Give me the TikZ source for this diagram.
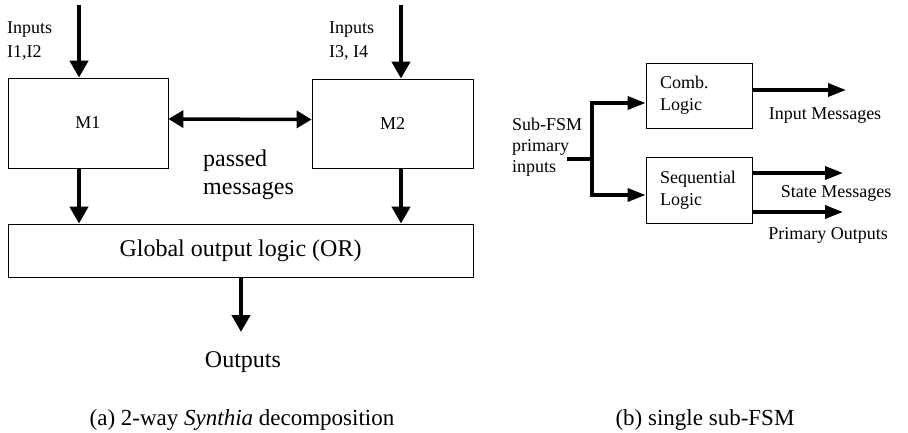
\documentclass[tikz,border=0pt]{standalone}
\usepackage{fontspec}
\setmainfont{Liberation Serif}
\usepackage{tikz}
\usetikzlibrary{arrows.meta,positioning}

\tikzset{
  box/.style={draw, line width=0.8pt, inner sep=0pt},
  flow/.style={line width=4.5pt, -{Triangle[length=17pt,width=18pt]}},
  dflow/.style={line width=3.5pt, {Triangle[length=15pt,width=17pt]}-{Triangle[length=15pt,width=17pt]}},
  rflow/.style={line width=3.5pt, line join=miter, -{Triangle[length=18pt,width=13pt]}},
  rline/.style={line width=3.5pt},
  lbl/.style={inner sep=0pt, align=left, font=\fontsize{18}{24}\selectfont},
}

\begin{document}
\begin{tikzpicture}[x=1pt, y=-1pt]
\useasboundingbox (0,0) rectangle (908,433);

% === (a) 2-way decomposition ===
\node[box, minimum width=160pt, minimum height=90pt, font=\fontsize{18}{22}\selectfont] (m1) at (88,123) {M1};
\node[box, minimum width=161pt, minimum height=89pt, font=\fontsize{18}{22}\selectfont] (m2) at (392.5,123.5) {M2};
\node[box, minimum width=465pt, minimum height=53pt, font=\fontsize{24}{28}\selectfont] (glob) at (240.5,250.5) {Global output logic (OR)};

% inputs
\coordinate (in1) at (79,5);
\coordinate (in2) at (401,5);
\node[lbl, anchor=north west] (in1lbl) at (7,22) {Inputs\\I1,I2};
\node[lbl, anchor=north west] (in2lbl) at (329,22) {Inputs\\I3, I4};
\draw[flow] (in1) -- (in1 |- m1.north);
\draw[flow] (in2) -- (in2 |- m2.north);

% messages between the two machines
\draw[dflow] ([yshift=4pt]m1.east) -- ([yshift=4pt]m2.west);
\node[lbl, anchor=north west, font=\fontsize{24}{28}\selectfont] (passlbl) at (203,150) {passed\\messages};

% to the output logic
\draw[flow] (m1.south -| in1) -- (glob.north -| in1);
\draw[flow] (m2.south -| in2) -- (glob.north -| in2);
\coordinate (out) at (241,332);
\draw[flow] (glob.south -| out) -- (out);
\node[anchor=base, font=\fontsize{24}{28}\selectfont] (outlbl) at (243,367) {Outputs};

\node[anchor=base, font=\fontsize{23}{28}\selectfont] (capa) at (242,425) {(a) 2-way \textit{Synthia} decomposition};

% === (b) single sub-FSM ===
\node[box, minimum width=106pt, minimum height=65pt, text width=78pt, align=left, font=\fontsize{18}{22}\selectfont] (comb) at (699,95.5) {Comb.\\Logic};
\node[box, minimum width=106pt, minimum height=66pt, text width=78pt, align=left, font=\fontsize{18}{22}\selectfont] (seq) at (699,190) {Sequential\\Logic};

\node[lbl, anchor=north west, font=\fontsize{18}{21}\selectfont] (sublbl) at (512,118) {Sub-FSM\\primary\\inputs};
\coordinate (stub) at (567,159);
\coordinate (br) at (592,159);
\draw[rline] (stub) -- (br);
\draw[rflow] (br) |- ([yshift=-7.5pt]comb.west);
\draw[rflow] (br) |- ([yshift=-5pt]seq.west);

% outputs of the sub-FSM
\coordinate (imsg) at (846,90);
\coordinate (smsg) at (843,173);
\coordinate (pout) at (843,212);
\draw[rflow] (comb.east |- imsg) -- (imsg);
\draw[rflow] (seq.east |- smsg) -- (smsg);
\draw[rflow] (seq.east |- pout) -- (pout);
\node[anchor=base, font=\fontsize{18}{22}\selectfont] (imsglbl) at (825,120) {Input Messages};
\node[anchor=base, font=\fontsize{18}{22}\selectfont] (smsglbl) at (836,197) {State Messages};
\node[anchor=base, font=\fontsize{18}{22}\selectfont] (poutlbl) at (828,239) {Primary Outputs};

\node[anchor=base, font=\fontsize{23}{28}\selectfont] (capb) at (705,425) {(b) single sub-FSM};

\end{tikzpicture}
\end{document}
